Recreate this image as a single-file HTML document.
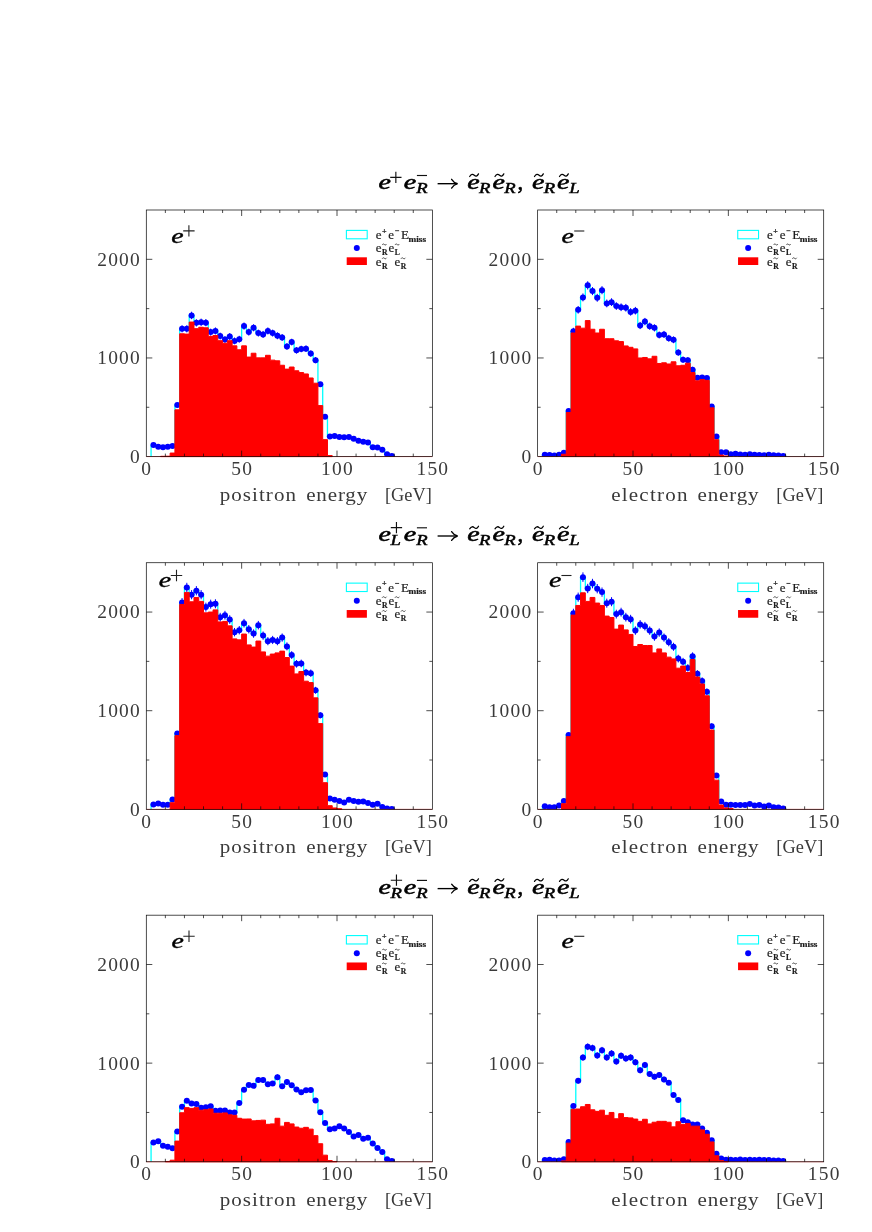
<!DOCTYPE html>
<html><head><meta charset="utf-8"><title>chart</title>
<style>html,body{margin:0;padding:0;background:#fff}svg{display:block;will-change:transform}text{white-space:pre}</style>
</head><body>
<svg width="872" height="1232" viewBox="0 0 872 1232">
<rect width="872" height="1232" fill="#fff"/>
<g font-family="Liberation Serif, serif" font-style="italic" fill="#000" stroke="#000" stroke-width="0.55">
<text transform="translate(378.5 188.6) scale(1.36 1)" font-size="20.6" >e</text>
<path d="M390.2 177.3h11.3 M395.85 171.65v11.3" stroke="#111" stroke-width="1.15" fill="none"/>
<text transform="translate(403.7 188.6) scale(1.36 1)" font-size="20.6" >e</text>
<path d="M416.9 175.5h10.1" stroke="#111" stroke-width="1.15" fill="none"/>
<text transform="translate(416.3 193) scale(1.28 1)" font-size="14.6" stroke-width="0.45">R</text>
<path d="M437.6 183.7H457.2" stroke="#000" stroke-width="1.35" fill="none"/>
<path d="M451.6 179.3 C453.2 181.9 455 183.1 457.6 183.7 C455 184.3 453.2 185.5 451.6 188.1" stroke="#000" stroke-width="1.3" fill="none" stroke-linecap="round"/>
<text transform="translate(467.2 188.6) scale(1.36 1)" font-size="20.6" >e</text>
<path d="M469.7 176.5 c1.6 -2.6 3.2 -2.4 4.6 -1.2 c1.4 1.2 2.8 1.2 4.2 -1.4" stroke="#000" stroke-width="1.25" fill="none" stroke-linecap="round"/>
<text transform="translate(479 193) scale(1.28 1)" font-size="14.6" stroke-width="0.45">R</text>
<text transform="translate(492.5 188.6) scale(1.36 1)" font-size="20.6" >e</text>
<path d="M495 176.5 c1.6 -2.6 3.2 -2.4 4.6 -1.2 c1.4 1.2 2.8 1.2 4.2 -1.4" stroke="#000" stroke-width="1.25" fill="none" stroke-linecap="round"/>
<text transform="translate(504.3 193) scale(1.28 1)" font-size="14.6" stroke-width="0.45">R</text>
<text transform="translate(517.6 188.6) scale(1 1)" font-size="22.5" font-style="normal">,</text>
<text transform="translate(532 188.6) scale(1.36 1)" font-size="20.6" >e</text>
<path d="M534.5 176.5 c1.6 -2.6 3.2 -2.4 4.6 -1.2 c1.4 1.2 2.8 1.2 4.2 -1.4" stroke="#000" stroke-width="1.25" fill="none" stroke-linecap="round"/>
<text transform="translate(543.7 193) scale(1.28 1)" font-size="14.6" stroke-width="0.45">R</text>
<text transform="translate(557 188.6) scale(1.36 1)" font-size="20.6" >e</text>
<path d="M559.5 176.5 c1.6 -2.6 3.2 -2.4 4.6 -1.2 c1.4 1.2 2.8 1.2 4.2 -1.4" stroke="#000" stroke-width="1.25" fill="none" stroke-linecap="round"/>
<text transform="translate(569.2 193) scale(1.28 1)" font-size="14.6" stroke-width="0.45">L</text>
</g>
<clipPath id="cp1"><rect x="146.3" y="210" width="286.05" height="246.6"/></clipPath>
<g>
<g clip-path="url(#cp1)">
<path d="M151.07 456.6 V445.06 H155.84 V446.64 H160.6 V447.33 H165.37 V446.74 H170.14 V445.95 H174.91 V404.91 H179.67 V328.86 H184.44 V328.86 H189.21 V315.45 H193.98 V322.84 H198.74 V322.25 H203.51 V322.65 H208.28 V332.12 H213.05 V330.93 H217.81 V336.06 H222.58 V339.51 H227.35 V336.46 H232.12 V340.9 H236.88 V339.22 H241.65 V326.1 H246.42 V332.12 H251.19 V327.78 H255.95 V333.1 H260.72 V334.39 H265.49 V330.93 H270.25 V333.1 H275.02 V335.77 H279.79 V337.44 H284.56 V346.42 H289.33 V342.08 H294.09 V350.36 H298.86 V348.98 H303.63 V348.69 H308.39 V353.62 H313.16 V360.13 H317.93 V384.3 H322.7 V416.65 H327.47 V436.48 H332.23 V435.89 H337 V436.97 H341.77 V437.17 H346.54 V436.97 H351.3 V438.84 H356.07 V440.72 H360.84 V441.8 H365.61 V442.49 H370.37 V447.13 H375.14 V447.62 H379.91 V449.7 H384.68 V454.23 H389.44 V456.11 H394.21 V456.6" fill="none" stroke="#00ffff" stroke-width="1.3" stroke-linejoin="miter"/>
<path d="M182.06 325.31V332.41 M186.82 325.31V332.41 M191.59 311.71V319.18 M196.36 319.21V326.48 M201.13 318.61V325.89 M205.89 319.01V326.28 M210.66 328.61V335.62 M215.43 327.41V334.45 M220.2 332.61V339.51 M224.96 336.12V342.91 M229.73 333.01V339.9 M234.5 337.52V344.27 M239.27 335.82V342.62 M244.03 322.51V329.69 M248.8 328.61V335.62 M253.57 324.21V331.34 M258.34 329.61V336.59 M263.1 330.91V337.86 M267.87 327.41V334.45 M272.64 329.61V336.59 M277.41 332.31V339.22 M282.17 334.01V340.87 M286.94 343.12V349.72 M291.71 338.72V345.44 M296.48 347.13V353.6 M301.24 345.73V352.24 M306.01 345.43V351.95 M310.78 350.43V356.81 M315.55 357.05V363.21 " stroke="#0000ff" stroke-width="1" fill="none"/>
<g fill="#0000ff"><circle cx="153.45" cy="445.06" r="3"/><circle cx="158.22" cy="446.64" r="3"/><circle cx="162.99" cy="447.33" r="3"/><circle cx="167.75" cy="446.74" r="3"/><circle cx="172.52" cy="445.95" r="3"/><circle cx="177.29" cy="404.91" r="3"/><circle cx="182.06" cy="328.86" r="3"/><circle cx="186.82" cy="328.86" r="3"/><circle cx="191.59" cy="315.45" r="3"/><circle cx="196.36" cy="322.84" r="3"/><circle cx="201.13" cy="322.25" r="3"/><circle cx="205.89" cy="322.65" r="3"/><circle cx="210.66" cy="332.12" r="3"/><circle cx="215.43" cy="330.93" r="3"/><circle cx="220.2" cy="336.06" r="3"/><circle cx="224.96" cy="339.51" r="3"/><circle cx="229.73" cy="336.46" r="3"/><circle cx="234.5" cy="340.9" r="3"/><circle cx="239.27" cy="339.22" r="3"/><circle cx="244.03" cy="326.1" r="3"/><circle cx="248.8" cy="332.12" r="3"/><circle cx="253.57" cy="327.78" r="3"/><circle cx="258.34" cy="333.1" r="3"/><circle cx="263.1" cy="334.39" r="3"/><circle cx="267.87" cy="330.93" r="3"/><circle cx="272.64" cy="333.1" r="3"/><circle cx="277.41" cy="335.77" r="3"/><circle cx="282.17" cy="337.44" r="3"/><circle cx="286.94" cy="346.42" r="3"/><circle cx="291.71" cy="342.08" r="3"/><circle cx="296.48" cy="350.36" r="3"/><circle cx="301.24" cy="348.98" r="3"/><circle cx="306.01" cy="348.69" r="3"/><circle cx="310.78" cy="353.62" r="3"/><circle cx="315.55" cy="360.13" r="3"/><circle cx="320.31" cy="384.3" r="3"/><circle cx="325.08" cy="416.65" r="3"/><circle cx="329.85" cy="436.48" r="3"/><circle cx="334.62" cy="435.89" r="3"/><circle cx="339.38" cy="436.97" r="3"/><circle cx="344.15" cy="437.17" r="3"/><circle cx="348.92" cy="436.97" r="3"/><circle cx="353.69" cy="438.84" r="3"/><circle cx="358.45" cy="440.72" r="3"/><circle cx="363.22" cy="441.8" r="3"/><circle cx="367.99" cy="442.49" r="3"/><circle cx="372.76" cy="447.13" r="3"/><circle cx="377.52" cy="447.62" r="3"/><circle cx="382.29" cy="449.7" r="3"/><circle cx="387.06" cy="454.23" r="3"/><circle cx="391.83" cy="456.11" r="3"/></g>
</g>
<path d="M160.6 456.6 V456.3 H165.37 V456.21 H170.14 V453.05 H174.91 V409.84 H179.67 V333.79 H184.44 V334.09 H189.21 V322.06 H193.98 V328.66 H198.74 V327.28 H203.51 V327.78 H208.28 V336.36 H213.05 V335.47 H217.81 V340.7 H222.58 V343.26 H227.35 V340.7 H232.12 V345.83 H236.88 V349.77 H241.65 V345.83 H246.42 V357.07 H251.19 V353.23 H255.95 V357.86 H260.72 V357.86 H265.49 V355.3 H270.25 V360.13 H275.02 V360.82 H279.79 V365.26 H284.56 V369.11 H289.33 V367.03 H294.09 V370.78 H298.86 V372.56 H303.63 V373.94 H308.39 V377.98 H313.16 V383.21 H317.93 V405.6 H322.7 V439.63 H327.47 V455.61 H332.23 V456.6 Z" fill="#ff0000" stroke="#ff0000" stroke-width="1" stroke-linejoin="miter"/>
<line x1="146.3" y1="456.6" x2="432.35" y2="456.6" stroke="#ff0000" stroke-width="0.5"/>
<rect x="146.3" y="210" width="286.05" height="246.6" fill="none" stroke="#0a0a0a" stroke-width="0.72"/>
<path d="M165.37 456.6v-3 M165.37 210v3 M184.44 456.6v-3 M184.44 210v3 M203.51 456.6v-3 M203.51 210v3 M222.58 456.6v-3 M222.58 210v3 M241.65 456.6v-6 M241.65 210v6 M260.72 456.6v-3 M260.72 210v3 M279.79 456.6v-3 M279.79 210v3 M298.86 456.6v-3 M298.86 210v3 M317.93 456.6v-3 M317.93 210v3 M337 456.6v-6 M337 210v6 M356.07 456.6v-3 M356.07 210v3 M375.14 456.6v-3 M375.14 210v3 M394.21 456.6v-3 M394.21 210v3 M413.28 456.6v-3 M413.28 210v3 M146.3 407.28h3 M432.35 407.28h-3 M146.3 357.96h6 M432.35 357.96h-6 M146.3 308.64h3 M432.35 308.64h-3 M146.3 259.32h6 M432.35 259.32h-6 " stroke="#0a0a0a" stroke-width="0.72" fill="none"/>
<g font-family="Liberation Serif, serif" font-size="18" fill="#3a3a3a" letter-spacing="1.15">
<text transform="translate(146.8 475.3) scale(1.08 1)" text-anchor="middle">0</text>
<text transform="translate(242.15 475.3) scale(1.08 1)" text-anchor="middle">50</text>
<text transform="translate(337.5 475.3) scale(1.08 1)" text-anchor="middle">100</text>
<text transform="translate(432.85 475.3) scale(1.08 1)" text-anchor="middle">150</text>
<text transform="translate(141 463.3) scale(1.08 1)" text-anchor="end">0</text>
<text transform="translate(141 364.36) scale(1.08 1)" text-anchor="end">1000</text>
<text transform="translate(141 265.72) scale(1.08 1)" text-anchor="end">2000</text>
</g>
<g font-family="Liberation Serif, serif" font-size="18.3" fill="#3a3a3a">
<text transform="translate(219.7 500.5) scale(1.15 1)" textLength="66.35" lengthAdjust="spacing">positron</text>
<text transform="translate(306.2 500.5) scale(1.15 1)" textLength="53.04" lengthAdjust="spacing">energy</text>
<text transform="translate(384.9 500.5) scale(1.0 1)" textLength="47" lengthAdjust="spacing">[GeV]</text>
</g>
<g font-family="Liberation Serif, serif" font-style="italic" fill="#000" stroke="#000" stroke-width="0.4">
<text transform="translate(171.3 243.1) scale(1.31 1)" font-size="21.3" >e</text>
</g>
<path d="M183.2 230.9h11.4 M188.9 225.2v11.4" stroke="#222" stroke-width="1.1" fill="none"/>
<rect x="346.4" y="230.4" width="20.8" height="8.4" fill="none" stroke="#00ffff" stroke-width="1.1"/>
<circle cx="356.8" cy="248" r="3" fill="#0000ff"/>
<rect x="346.7" y="257.3" width="20.2" height="7.7" fill="#ff0000"/>
<g font-family="Liberation Serif, serif" fill="#1a1a1a" stroke="#1a1a1a" stroke-width="0.2">
<text x="375.7" y="239.1" font-size="13">e</text>
<text x="381.9" y="233.6" font-size="8" font-weight="bold">+</text>
<text x="388.3" y="239.1" font-size="13">e</text>
<path d="M395.1 230.7h4" stroke="#222" stroke-width="0.9"/>
<text x="400.9" y="239.1" font-size="13.2">E</text>
<text x="408.5" y="241.6" font-size="8.4" font-weight="bold" textLength="17.5" lengthAdjust="spacingAndGlyphs">miss</text>
<text x="375.7" y="251.8" font-size="13">e</text>
<path d="M382.2 244.9 c0.7 -1.1 1.5 -1.1 2.2 -0.4 c0.7 0.7 1.5 0.7 2.2 -0.5" stroke="#222" stroke-width="0.8" fill="none"/>
<text x="381.9" y="254.9" font-size="7.6" font-weight="bold">R</text>
<text x="388.5" y="251.8" font-size="13">e</text>
<path d="M395 244.9 c0.7 -1.1 1.5 -1.1 2.2 -0.4 c0.7 0.7 1.5 0.7 2.2 -0.5" stroke="#222" stroke-width="0.8" fill="none"/>
<text x="394.7" y="254.9" font-size="7.6" font-weight="bold">L</text>
<text x="375.7" y="265.6" font-size="13">e</text>
<path d="M382.2 258.7 c0.7 -1.1 1.5 -1.1 2.2 -0.4 c0.7 0.7 1.5 0.7 2.2 -0.5" stroke="#222" stroke-width="0.8" fill="none"/>
<text x="381.9" y="268.7" font-size="7.6" font-weight="bold">R</text>
<text x="394.5" y="265.6" font-size="13">e</text>
<path d="M401 258.7 c0.7 -1.1 1.5 -1.1 2.2 -0.4 c0.7 0.7 1.5 0.7 2.2 -0.5" stroke="#222" stroke-width="0.8" fill="none"/>
<text x="400.7" y="268.7" font-size="7.6" font-weight="bold">R</text>
</g>
</g>
<clipPath id="cp2"><rect x="537.65" y="210" width="286.05" height="246.6"/></clipPath>
<g>
<g clip-path="url(#cp2)">
<path d="M542.42 456.6 V454.82 H547.18 V455.12 H551.95 V455.61 H556.72 V454.82 H561.49 V452.65 H566.25 V411.03 H571.02 V331.33 H575.79 V309.82 H580.56 V297.4 H585.32 V285.36 H590.09 V291.08 H594.86 V297.79 H599.63 V290.19 H604.39 V303.41 H609.16 V302.13 H613.93 V306.08 H618.7 V307.26 H623.46 V307.75 H628.23 V311.9 H633 V310.71 H637.77 V325.51 H642.53 V321.56 H647.3 V326.2 H652.07 V327.87 H656.84 V334.98 H661.61 V334.39 H666.37 V338.23 H671.14 V339.81 H675.91 V352.53 H680.67 V359.74 H685.44 V360.13 H690.21 V369.7 H694.98 V377.79 H699.75 V377.49 H704.51 V377.98 H709.28 V406.39 H714.05 V436.38 H718.81 V452.36 H723.58 V452.36 H728.35 V454.23 H733.12 V453.74 H737.88 V454.43 H742.65 V454.63 H747.42 V454.23 H752.19 V454.82 H756.95 V455.02 H761.72 V455.22 H766.49 V454.82 H771.26 V455.22 H776.02 V455.61 H780.79 V456.01 H785.56 V456.6" fill="none" stroke="#00ffff" stroke-width="1.3" stroke-linejoin="miter"/>
<path d="M573.41 327.81V334.84 M578.17 306.02V313.63 M582.94 293.43V301.36 M587.71 281.25V289.47 M592.48 287.04V295.12 M597.24 293.83V301.75 M602.01 286.14V294.25 M606.78 299.52V307.3 M611.55 298.23V306.03 M616.31 302.22V309.93 M621.08 303.42V311.1 M625.85 303.92V311.58 M630.62 308.12V315.67 M635.38 306.92V314.5 M640.15 321.91V329.1 M644.92 317.91V325.21 M649.69 322.61V329.78 M654.45 324.31V331.44 M659.22 331.51V338.44 M663.99 330.91V337.86 M668.76 334.82V341.65 M673.52 336.42V343.2 M678.29 349.33V355.74 M683.06 356.64V362.83 M687.83 357.05V363.21 M692.59 366.77V372.63 " stroke="#0000ff" stroke-width="1" fill="none"/>
<g fill="#0000ff"><circle cx="544.8" cy="454.82" r="3"/><circle cx="549.57" cy="455.12" r="3"/><circle cx="554.34" cy="455.61" r="3"/><circle cx="559.1" cy="454.82" r="3"/><circle cx="563.87" cy="452.65" r="3"/><circle cx="568.64" cy="411.03" r="3"/><circle cx="573.41" cy="331.33" r="3"/><circle cx="578.17" cy="309.82" r="3"/><circle cx="582.94" cy="297.4" r="3"/><circle cx="587.71" cy="285.36" r="3"/><circle cx="592.48" cy="291.08" r="3"/><circle cx="597.24" cy="297.79" r="3"/><circle cx="602.01" cy="290.19" r="3"/><circle cx="606.78" cy="303.41" r="3"/><circle cx="611.55" cy="302.13" r="3"/><circle cx="616.31" cy="306.08" r="3"/><circle cx="621.08" cy="307.26" r="3"/><circle cx="625.85" cy="307.75" r="3"/><circle cx="630.62" cy="311.9" r="3"/><circle cx="635.38" cy="310.71" r="3"/><circle cx="640.15" cy="325.51" r="3"/><circle cx="644.92" cy="321.56" r="3"/><circle cx="649.69" cy="326.2" r="3"/><circle cx="654.45" cy="327.87" r="3"/><circle cx="659.22" cy="334.98" r="3"/><circle cx="663.99" cy="334.39" r="3"/><circle cx="668.76" cy="338.23" r="3"/><circle cx="673.52" cy="339.81" r="3"/><circle cx="678.29" cy="352.53" r="3"/><circle cx="683.06" cy="359.74" r="3"/><circle cx="687.83" cy="360.13" r="3"/><circle cx="692.59" cy="369.7" r="3"/><circle cx="697.36" cy="377.79" r="3"/><circle cx="702.13" cy="377.49" r="3"/><circle cx="706.9" cy="377.98" r="3"/><circle cx="711.66" cy="406.39" r="3"/><circle cx="716.43" cy="436.38" r="3"/><circle cx="721.2" cy="452.36" r="3"/><circle cx="725.97" cy="452.36" r="3"/><circle cx="730.73" cy="454.23" r="3"/><circle cx="735.5" cy="453.74" r="3"/><circle cx="740.27" cy="454.43" r="3"/><circle cx="745.04" cy="454.63" r="3"/><circle cx="749.8" cy="454.23" r="3"/><circle cx="754.57" cy="454.82" r="3"/><circle cx="759.34" cy="455.02" r="3"/><circle cx="764.11" cy="455.22" r="3"/><circle cx="768.87" cy="454.82" r="3"/><circle cx="773.64" cy="455.22" r="3"/><circle cx="778.41" cy="455.61" r="3"/><circle cx="783.18" cy="456.01" r="3"/></g>
</g>
<path d="M561.49 456.6 V454.23 H566.25 V412.51 H571.02 V333 H575.79 V326.1 H580.56 V328.17 H585.32 V320.58 H590.09 V329.26 H594.86 V333 H599.63 V329.26 H604.39 V338.73 H609.16 V338.73 H613.93 V340.8 H618.7 V341.59 H623.46 V345.93 H628.23 V347.31 H633 V348.89 H637.77 V357.96 H642.53 V357.47 H647.3 V358.85 H652.07 V356.28 H656.84 V363.48 H661.61 V362.79 H666.37 V363.98 H671.14 V361.81 H675.91 V365.75 H680.67 V365.26 H685.44 V363.19 H690.21 V372.56 H694.98 V380.84 H699.75 V379.46 H704.51 V380.35 H709.28 V407.87 H714.05 V439.73 H718.81 V455.12 H723.58 V456.01 H728.35 V456.6 Z" fill="#ff0000" stroke="#ff0000" stroke-width="1" stroke-linejoin="miter"/>
<line x1="537.65" y1="456.6" x2="823.7" y2="456.6" stroke="#ff0000" stroke-width="0.5"/>
<rect x="537.65" y="210" width="286.05" height="246.6" fill="none" stroke="#0a0a0a" stroke-width="0.72"/>
<path d="M556.72 456.6v-3 M556.72 210v3 M575.79 456.6v-3 M575.79 210v3 M594.86 456.6v-3 M594.86 210v3 M613.93 456.6v-3 M613.93 210v3 M633 456.6v-6 M633 210v6 M652.07 456.6v-3 M652.07 210v3 M671.14 456.6v-3 M671.14 210v3 M690.21 456.6v-3 M690.21 210v3 M709.28 456.6v-3 M709.28 210v3 M728.35 456.6v-6 M728.35 210v6 M747.42 456.6v-3 M747.42 210v3 M766.49 456.6v-3 M766.49 210v3 M785.56 456.6v-3 M785.56 210v3 M804.63 456.6v-3 M804.63 210v3 M537.65 407.28h3 M823.7 407.28h-3 M537.65 357.96h6 M823.7 357.96h-6 M537.65 308.64h3 M823.7 308.64h-3 M537.65 259.32h6 M823.7 259.32h-6 " stroke="#0a0a0a" stroke-width="0.72" fill="none"/>
<g font-family="Liberation Serif, serif" font-size="18" fill="#3a3a3a" letter-spacing="1.15">
<text transform="translate(538.15 475.3) scale(1.08 1)" text-anchor="middle">0</text>
<text transform="translate(633.5 475.3) scale(1.08 1)" text-anchor="middle">50</text>
<text transform="translate(728.85 475.3) scale(1.08 1)" text-anchor="middle">100</text>
<text transform="translate(824.2 475.3) scale(1.08 1)" text-anchor="middle">150</text>
<text transform="translate(532.35 463.3) scale(1.08 1)" text-anchor="end">0</text>
<text transform="translate(532.35 364.36) scale(1.08 1)" text-anchor="end">1000</text>
<text transform="translate(532.35 265.72) scale(1.08 1)" text-anchor="end">2000</text>
</g>
<g font-family="Liberation Serif, serif" font-size="18.3" fill="#3a3a3a">
<text transform="translate(611.15 500.5) scale(1.15 1)" textLength="66.35" lengthAdjust="spacing">electron</text>
<text transform="translate(697.55 500.5) scale(1.15 1)" textLength="53.04" lengthAdjust="spacing">energy</text>
<text transform="translate(776.25 500.5) scale(1.0 1)" textLength="47" lengthAdjust="spacing">[GeV]</text>
</g>
<g font-family="Liberation Serif, serif" font-style="italic" fill="#000" stroke="#000" stroke-width="0.4">
<text transform="translate(561.4 243) scale(1.31 1)" font-size="21.3" >e</text>
</g>
<path d="M574.2 231h10.1" stroke="#222" stroke-width="1.1" fill="none"/>
<rect x="737.75" y="230.4" width="20.8" height="8.4" fill="none" stroke="#00ffff" stroke-width="1.1"/>
<circle cx="748.15" cy="248" r="3" fill="#0000ff"/>
<rect x="738.05" y="257.3" width="20.2" height="7.7" fill="#ff0000"/>
<g font-family="Liberation Serif, serif" fill="#1a1a1a" stroke="#1a1a1a" stroke-width="0.2">
<text x="767.05" y="239.1" font-size="13">e</text>
<text x="773.25" y="233.6" font-size="8" font-weight="bold">+</text>
<text x="779.65" y="239.1" font-size="13">e</text>
<path d="M786.45 230.7h4" stroke="#222" stroke-width="0.9"/>
<text x="792.25" y="239.1" font-size="13.2">E</text>
<text x="799.85" y="241.6" font-size="8.4" font-weight="bold" textLength="17.5" lengthAdjust="spacingAndGlyphs">miss</text>
<text x="767.05" y="251.8" font-size="13">e</text>
<path d="M773.55 244.9 c0.7 -1.1 1.5 -1.1 2.2 -0.4 c0.7 0.7 1.5 0.7 2.2 -0.5" stroke="#222" stroke-width="0.8" fill="none"/>
<text x="773.25" y="254.9" font-size="7.6" font-weight="bold">R</text>
<text x="779.85" y="251.8" font-size="13">e</text>
<path d="M786.35 244.9 c0.7 -1.1 1.5 -1.1 2.2 -0.4 c0.7 0.7 1.5 0.7 2.2 -0.5" stroke="#222" stroke-width="0.8" fill="none"/>
<text x="786.05" y="254.9" font-size="7.6" font-weight="bold">L</text>
<text x="767.05" y="265.6" font-size="13">e</text>
<path d="M773.55 258.7 c0.7 -1.1 1.5 -1.1 2.2 -0.4 c0.7 0.7 1.5 0.7 2.2 -0.5" stroke="#222" stroke-width="0.8" fill="none"/>
<text x="773.25" y="268.7" font-size="7.6" font-weight="bold">R</text>
<text x="785.85" y="265.6" font-size="13">e</text>
<path d="M792.35 258.7 c0.7 -1.1 1.5 -1.1 2.2 -0.4 c0.7 0.7 1.5 0.7 2.2 -0.5" stroke="#222" stroke-width="0.8" fill="none"/>
<text x="792.05" y="268.7" font-size="7.6" font-weight="bold">R</text>
</g>
</g>
<g font-family="Liberation Serif, serif" font-style="italic" fill="#000" stroke="#000" stroke-width="0.55">
<text transform="translate(378.5 540.9) scale(1.36 1)" font-size="20.6" >e</text>
<path d="M390.8 527.6h11.3 M396.45 521.95v11.3" stroke="#111" stroke-width="1.15" fill="none"/>
<text transform="translate(390.5 545.3) scale(1.28 1)" font-size="14.6" stroke-width="0.45">L</text>
<text transform="translate(403.7 540.9) scale(1.36 1)" font-size="20.6" >e</text>
<path d="M416.9 527.8h10.1" stroke="#111" stroke-width="1.15" fill="none"/>
<text transform="translate(416.3 545.3) scale(1.28 1)" font-size="14.6" stroke-width="0.45">R</text>
<path d="M437.6 536H457.2" stroke="#000" stroke-width="1.35" fill="none"/>
<path d="M451.6 531.6 C453.2 534.2 455 535.4 457.6 536 C455 536.6 453.2 537.8 451.6 540.4" stroke="#000" stroke-width="1.3" fill="none" stroke-linecap="round"/>
<text transform="translate(467.2 540.9) scale(1.36 1)" font-size="20.6" >e</text>
<path d="M469.7 528.8 c1.6 -2.6 3.2 -2.4 4.6 -1.2 c1.4 1.2 2.8 1.2 4.2 -1.4" stroke="#000" stroke-width="1.25" fill="none" stroke-linecap="round"/>
<text transform="translate(479 545.3) scale(1.28 1)" font-size="14.6" stroke-width="0.45">R</text>
<text transform="translate(492.5 540.9) scale(1.36 1)" font-size="20.6" >e</text>
<path d="M495 528.8 c1.6 -2.6 3.2 -2.4 4.6 -1.2 c1.4 1.2 2.8 1.2 4.2 -1.4" stroke="#000" stroke-width="1.25" fill="none" stroke-linecap="round"/>
<text transform="translate(504.3 545.3) scale(1.28 1)" font-size="14.6" stroke-width="0.45">R</text>
<text transform="translate(517.6 540.9) scale(1 1)" font-size="22.5" font-style="normal">,</text>
<text transform="translate(532 540.9) scale(1.36 1)" font-size="20.6" >e</text>
<path d="M534.5 528.8 c1.6 -2.6 3.2 -2.4 4.6 -1.2 c1.4 1.2 2.8 1.2 4.2 -1.4" stroke="#000" stroke-width="1.25" fill="none" stroke-linecap="round"/>
<text transform="translate(543.7 545.3) scale(1.28 1)" font-size="14.6" stroke-width="0.45">R</text>
<text transform="translate(557 540.9) scale(1.36 1)" font-size="20.6" >e</text>
<path d="M559.5 528.8 c1.6 -2.6 3.2 -2.4 4.6 -1.2 c1.4 1.2 2.8 1.2 4.2 -1.4" stroke="#000" stroke-width="1.25" fill="none" stroke-linecap="round"/>
<text transform="translate(569.2 545.3) scale(1.28 1)" font-size="14.6" stroke-width="0.45">L</text>
</g>
<clipPath id="cp3"><rect x="146.3" y="562.73" width="286.05" height="246.6"/></clipPath>
<g>
<g clip-path="url(#cp3)">
<path d="M151.07 809.33 V804.4 H155.84 V803.41 H160.6 V804.79 H165.37 V804.79 H170.14 V799.47 H174.91 V733.38 H179.67 V602.58 H184.44 V587.49 H189.21 V594.69 H193.98 V590.74 H198.74 V594.69 H203.51 V607.12 H208.28 V604.16 H213.05 V603.76 H217.81 V617.18 H222.58 V615.21 H227.35 V619.55 H232.12 V632.17 H236.88 V630.2 H241.65 V623.2 H246.42 V629.21 H251.19 V633.55 H255.95 V625.17 H260.72 V635.62 H265.49 V641.15 H270.25 V639.97 H275.02 V641.15 H279.79 V637.6 H284.56 V646.38 H289.33 V655.06 H294.09 V663.84 H298.86 V663.44 H303.63 V672.61 H308.39 V673.21 H313.16 V690.27 H317.93 V715.33 H322.7 V774.41 H327.47 V798.38 H332.23 V799.86 H337 V801.04 H341.77 V802.43 H346.54 V799.86 H351.3 V801.04 H356.07 V801.64 H360.84 V801.44 H365.61 V803.02 H370.37 V804.79 H375.14 V803.81 H379.91 V806.96 H384.68 V808.54 H389.44 V809.03 H394.21 V809.33" fill="none" stroke="#00ffff" stroke-width="1.3" stroke-linejoin="miter"/>
<path d="M182.06 598.06V607.1 M186.82 582.81V592.17 M191.59 590.09V599.29 M196.36 586.1V595.39 M201.13 590.09V599.29 M205.89 602.65V611.58 M210.66 599.66V608.66 M215.43 599.26V608.27 M220.2 612.83V621.53 M224.96 610.83V619.58 M229.73 615.22V623.87 M234.5 627.99V636.35 M239.27 626V634.4 M244.03 618.91V627.48 M248.8 625V633.43 M253.57 629.39V637.72 M258.34 620.91V629.43 M263.1 631.49V639.76 M267.87 637.08V645.22 M272.64 635.88V644.05 M277.41 637.08V645.22 M282.17 633.48V641.71 M286.94 642.37V650.39 M291.71 651.16V658.96 M296.48 660.05V667.62 M301.24 659.65V667.23 M306.01 668.94V676.29 M310.78 669.54V676.87 M315.55 686.84V693.7 M320.31 712.28V718.37 " stroke="#0000ff" stroke-width="1" fill="none"/>
<g fill="#0000ff"><circle cx="153.45" cy="804.4" r="3"/><circle cx="158.22" cy="803.41" r="3"/><circle cx="162.99" cy="804.79" r="3"/><circle cx="167.75" cy="804.79" r="3"/><circle cx="172.52" cy="799.47" r="3"/><circle cx="177.29" cy="733.38" r="3"/><circle cx="182.06" cy="602.58" r="3"/><circle cx="186.82" cy="587.49" r="3"/><circle cx="191.59" cy="594.69" r="3"/><circle cx="196.36" cy="590.74" r="3"/><circle cx="201.13" cy="594.69" r="3"/><circle cx="205.89" cy="607.12" r="3"/><circle cx="210.66" cy="604.16" r="3"/><circle cx="215.43" cy="603.76" r="3"/><circle cx="220.2" cy="617.18" r="3"/><circle cx="224.96" cy="615.21" r="3"/><circle cx="229.73" cy="619.55" r="3"/><circle cx="234.5" cy="632.17" r="3"/><circle cx="239.27" cy="630.2" r="3"/><circle cx="244.03" cy="623.2" r="3"/><circle cx="248.8" cy="629.21" r="3"/><circle cx="253.57" cy="633.55" r="3"/><circle cx="258.34" cy="625.17" r="3"/><circle cx="263.1" cy="635.62" r="3"/><circle cx="267.87" cy="641.15" r="3"/><circle cx="272.64" cy="639.97" r="3"/><circle cx="277.41" cy="641.15" r="3"/><circle cx="282.17" cy="637.6" r="3"/><circle cx="286.94" cy="646.38" r="3"/><circle cx="291.71" cy="655.06" r="3"/><circle cx="296.48" cy="663.84" r="3"/><circle cx="301.24" cy="663.44" r="3"/><circle cx="306.01" cy="672.61" r="3"/><circle cx="310.78" cy="673.21" r="3"/><circle cx="315.55" cy="690.27" r="3"/><circle cx="320.31" cy="715.33" r="3"/><circle cx="325.08" cy="774.41" r="3"/><circle cx="329.85" cy="798.38" r="3"/><circle cx="334.62" cy="799.86" r="3"/><circle cx="339.38" cy="801.04" r="3"/><circle cx="344.15" cy="802.43" r="3"/><circle cx="348.92" cy="799.86" r="3"/><circle cx="353.69" cy="801.04" r="3"/><circle cx="358.45" cy="801.64" r="3"/><circle cx="363.22" cy="801.44" r="3"/><circle cx="367.99" cy="803.02" r="3"/><circle cx="372.76" cy="804.79" r="3"/><circle cx="377.52" cy="803.81" r="3"/><circle cx="382.29" cy="806.96" r="3"/><circle cx="387.06" cy="808.54" r="3"/><circle cx="391.83" cy="809.03" r="3"/></g>
</g>
<path d="M170.14 809.33 V802.72 H174.91 V735.65 H179.67 V604.45 H184.44 V592.42 H189.21 V601.79 H193.98 V597.45 H198.74 V601.4 H203.51 V612.84 H208.28 V612.05 H213.05 V609.88 H217.81 V621.91 H222.58 V621.42 H227.35 V625.86 H232.12 V638.88 H236.88 V639.87 H241.65 V634.05 H246.42 V644.9 H251.19 V647.07 H255.95 V641.05 H260.72 V651.9 H265.49 V656.14 H270.25 V654.07 H275.02 V652.89 H279.79 V651.11 H284.56 V657.52 H289.33 V666.1 H294.09 V673.9 H298.86 V671.53 H303.63 V681.2 H308.39 V682.58 H313.16 V697.87 H317.93 V723.61 H322.7 V782.7 H327.47 V805.68 H332.23 V807.95 H337 V808.74 H341.77 V809.33 Z" fill="#ff0000" stroke="#ff0000" stroke-width="1" stroke-linejoin="miter"/>
<line x1="146.3" y1="809.33" x2="432.35" y2="809.33" stroke="#ff0000" stroke-width="0.5"/>
<rect x="146.3" y="562.73" width="286.05" height="246.6" fill="none" stroke="#0a0a0a" stroke-width="0.72"/>
<path d="M165.37 809.33v-3 M165.37 562.73v3 M184.44 809.33v-3 M184.44 562.73v3 M203.51 809.33v-3 M203.51 562.73v3 M222.58 809.33v-3 M222.58 562.73v3 M241.65 809.33v-6 M241.65 562.73v6 M260.72 809.33v-3 M260.72 562.73v3 M279.79 809.33v-3 M279.79 562.73v3 M298.86 809.33v-3 M298.86 562.73v3 M317.93 809.33v-3 M317.93 562.73v3 M337 809.33v-6 M337 562.73v6 M356.07 809.33v-3 M356.07 562.73v3 M375.14 809.33v-3 M375.14 562.73v3 M394.21 809.33v-3 M394.21 562.73v3 M413.28 809.33v-3 M413.28 562.73v3 M146.3 760.01h3 M432.35 760.01h-3 M146.3 710.69h6 M432.35 710.69h-6 M146.3 661.37h3 M432.35 661.37h-3 M146.3 612.05h6 M432.35 612.05h-6 " stroke="#0a0a0a" stroke-width="0.72" fill="none"/>
<g font-family="Liberation Serif, serif" font-size="18" fill="#3a3a3a" letter-spacing="1.15">
<text transform="translate(146.8 828.03) scale(1.08 1)" text-anchor="middle">0</text>
<text transform="translate(242.15 828.03) scale(1.08 1)" text-anchor="middle">50</text>
<text transform="translate(337.5 828.03) scale(1.08 1)" text-anchor="middle">100</text>
<text transform="translate(432.85 828.03) scale(1.08 1)" text-anchor="middle">150</text>
<text transform="translate(141 816.03) scale(1.08 1)" text-anchor="end">0</text>
<text transform="translate(141 717.09) scale(1.08 1)" text-anchor="end">1000</text>
<text transform="translate(141 618.45) scale(1.08 1)" text-anchor="end">2000</text>
</g>
<g font-family="Liberation Serif, serif" font-size="18.3" fill="#3a3a3a">
<text transform="translate(219.7 853.23) scale(1.15 1)" textLength="66.35" lengthAdjust="spacing">positron</text>
<text transform="translate(306.2 853.23) scale(1.15 1)" textLength="53.04" lengthAdjust="spacing">energy</text>
<text transform="translate(384.9 853.23) scale(1.0 1)" textLength="47" lengthAdjust="spacing">[GeV]</text>
</g>
<g font-family="Liberation Serif, serif" font-style="italic" fill="#000" stroke="#000" stroke-width="0.4">
<text transform="translate(158.7 586.8) scale(1.31 1)" font-size="21.3" >e</text>
</g>
<path d="M170.8 575.5h11.4 M176.5 569.8v11.4" stroke="#222" stroke-width="1.1" fill="none"/>
<rect x="346.4" y="583.13" width="20.8" height="8.4" fill="none" stroke="#00ffff" stroke-width="1.1"/>
<circle cx="356.8" cy="600.73" r="3" fill="#0000ff"/>
<rect x="346.7" y="610.03" width="20.2" height="7.7" fill="#ff0000"/>
<g font-family="Liberation Serif, serif" fill="#1a1a1a" stroke="#1a1a1a" stroke-width="0.2">
<text x="375.7" y="591.83" font-size="13">e</text>
<text x="381.9" y="586.33" font-size="8" font-weight="bold">+</text>
<text x="388.3" y="591.83" font-size="13">e</text>
<path d="M395.1 583.43h4" stroke="#222" stroke-width="0.9"/>
<text x="400.9" y="591.83" font-size="13.2">E</text>
<text x="408.5" y="594.33" font-size="8.4" font-weight="bold" textLength="17.5" lengthAdjust="spacingAndGlyphs">miss</text>
<text x="375.7" y="604.53" font-size="13">e</text>
<path d="M382.2 597.63 c0.7 -1.1 1.5 -1.1 2.2 -0.4 c0.7 0.7 1.5 0.7 2.2 -0.5" stroke="#222" stroke-width="0.8" fill="none"/>
<text x="381.9" y="607.63" font-size="7.6" font-weight="bold">R</text>
<text x="388.5" y="604.53" font-size="13">e</text>
<path d="M395 597.63 c0.7 -1.1 1.5 -1.1 2.2 -0.4 c0.7 0.7 1.5 0.7 2.2 -0.5" stroke="#222" stroke-width="0.8" fill="none"/>
<text x="394.7" y="607.63" font-size="7.6" font-weight="bold">L</text>
<text x="375.7" y="618.33" font-size="13">e</text>
<path d="M382.2 611.43 c0.7 -1.1 1.5 -1.1 2.2 -0.4 c0.7 0.7 1.5 0.7 2.2 -0.5" stroke="#222" stroke-width="0.8" fill="none"/>
<text x="381.9" y="621.43" font-size="7.6" font-weight="bold">R</text>
<text x="394.5" y="618.33" font-size="13">e</text>
<path d="M401 611.43 c0.7 -1.1 1.5 -1.1 2.2 -0.4 c0.7 0.7 1.5 0.7 2.2 -0.5" stroke="#222" stroke-width="0.8" fill="none"/>
<text x="400.7" y="621.43" font-size="7.6" font-weight="bold">R</text>
</g>
</g>
<clipPath id="cp4"><rect x="537.65" y="562.73" width="286.05" height="246.6"/></clipPath>
<g>
<g clip-path="url(#cp4)">
<path d="M542.42 809.33 V806.37 H547.18 V807.36 H551.95 V807.36 H556.72 V805.38 H561.49 V801.04 H566.25 V734.96 H571.02 V613.14 H575.79 V597.16 H580.56 V577.13 H585.32 V588.48 H590.09 V583.54 H594.86 V588.67 H599.63 V592.12 H604.39 V603.17 H609.16 V601.69 H613.93 V614.12 H618.7 V612.15 H623.46 V617.18 H628.23 V619.15 H633 V630.59 H637.77 V624.38 H642.53 V626.16 H647.3 V630.59 H652.07 V636.61 H656.84 V632.57 H661.61 V637.6 H666.37 V642.23 H671.14 V646.77 H675.91 V658.61 H680.67 V661.67 H685.44 V667.88 H690.21 V656.24 H694.98 V673.8 H699.75 V680.9 H704.51 V691.85 H709.28 V726.28 H714.05 V775.4 H718.81 V801.44 H723.58 V804.79 H728.35 V804.79 H733.12 V805.09 H737.88 V805.09 H742.65 V805.09 H747.42 V804 H752.19 V805.38 H756.95 V804.99 H761.72 V806.57 H766.49 V805.38 H771.26 V807.36 H776.02 V807.55 H780.79 V808.54 H785.56 V809.33" fill="none" stroke="#00ffff" stroke-width="1.3" stroke-linejoin="miter"/>
<path d="M573.41 608.74V617.53 M578.17 592.58V601.73 M582.94 572.35V581.92 M587.71 583.81V593.14 M592.48 578.82V588.26 M597.24 584.01V593.34 M602.01 587.5V596.75 M606.78 598.66V607.68 M611.55 597.17V606.22 M616.31 609.73V618.51 M621.08 607.74V616.56 M625.85 612.83V621.53 M630.62 614.82V623.48 M635.38 626.4V634.79 M640.15 620.11V628.65 M644.92 621.9V630.41 M649.69 626.4V634.79 M654.45 632.48V640.74 M659.22 628.39V636.74 M663.99 633.48V641.71 M668.76 638.17V646.29 M673.52 642.77V650.78 M678.29 654.75V662.46 M683.06 657.85V665.48 M687.83 664.14V671.62 M692.59 652.35V660.13 M697.36 670.14V677.45 M702.13 677.34V684.46 M706.9 688.45V695.25 M711.66 723.41V729.14 " stroke="#0000ff" stroke-width="1" fill="none"/>
<g fill="#0000ff"><circle cx="544.8" cy="806.37" r="3"/><circle cx="549.57" cy="807.36" r="3"/><circle cx="554.34" cy="807.36" r="3"/><circle cx="559.1" cy="805.38" r="3"/><circle cx="563.87" cy="801.04" r="3"/><circle cx="568.64" cy="734.96" r="3"/><circle cx="573.41" cy="613.14" r="3"/><circle cx="578.17" cy="597.16" r="3"/><circle cx="582.94" cy="577.13" r="3"/><circle cx="587.71" cy="588.48" r="3"/><circle cx="592.48" cy="583.54" r="3"/><circle cx="597.24" cy="588.67" r="3"/><circle cx="602.01" cy="592.12" r="3"/><circle cx="606.78" cy="603.17" r="3"/><circle cx="611.55" cy="601.69" r="3"/><circle cx="616.31" cy="614.12" r="3"/><circle cx="621.08" cy="612.15" r="3"/><circle cx="625.85" cy="617.18" r="3"/><circle cx="630.62" cy="619.15" r="3"/><circle cx="635.38" cy="630.59" r="3"/><circle cx="640.15" cy="624.38" r="3"/><circle cx="644.92" cy="626.16" r="3"/><circle cx="649.69" cy="630.59" r="3"/><circle cx="654.45" cy="636.61" r="3"/><circle cx="659.22" cy="632.57" r="3"/><circle cx="663.99" cy="637.6" r="3"/><circle cx="668.76" cy="642.23" r="3"/><circle cx="673.52" cy="646.77" r="3"/><circle cx="678.29" cy="658.61" r="3"/><circle cx="683.06" cy="661.67" r="3"/><circle cx="687.83" cy="667.88" r="3"/><circle cx="692.59" cy="656.24" r="3"/><circle cx="697.36" cy="673.8" r="3"/><circle cx="702.13" cy="680.9" r="3"/><circle cx="706.9" cy="691.85" r="3"/><circle cx="711.66" cy="726.28" r="3"/><circle cx="716.43" cy="775.4" r="3"/><circle cx="721.2" cy="801.44" r="3"/><circle cx="725.97" cy="804.79" r="3"/><circle cx="730.73" cy="804.79" r="3"/><circle cx="735.5" cy="805.09" r="3"/><circle cx="740.27" cy="805.09" r="3"/><circle cx="745.04" cy="805.09" r="3"/><circle cx="749.8" cy="804" r="3"/><circle cx="754.57" cy="805.38" r="3"/><circle cx="759.34" cy="804.99" r="3"/><circle cx="764.11" cy="806.57" r="3"/><circle cx="768.87" cy="805.38" r="3"/><circle cx="773.64" cy="807.36" r="3"/><circle cx="778.41" cy="807.55" r="3"/><circle cx="783.18" cy="808.54" r="3"/></g>
</g>
<path d="M561.49 809.33 V803.71 H566.25 V736.63 H571.02 V615.11 H575.79 V605.44 H580.56 V592.82 H585.32 V601.4 H590.09 V597.45 H594.86 V603.07 H599.63 V605.44 H604.39 V616.09 H609.16 V617.48 H613.93 V629.11 H618.7 V625.07 H623.46 V629.9 H628.23 V634.44 H633 V646.48 H637.77 V644.5 H642.53 V645.49 H647.3 V645.49 H652.07 V652.89 H656.84 V648.94 H661.61 V652.89 H666.37 V657.13 H671.14 V658.9 H675.91 V668.18 H680.67 V666.1 H685.44 V672.52 H690.21 V659.5 H694.98 V676.96 H699.75 V683.96 H704.51 V695.8 H709.28 V730.02 H714.05 V780.13 H718.81 V805.09 H723.58 V807.95 H728.35 V808.54 H733.12 V809.33 Z" fill="#ff0000" stroke="#ff0000" stroke-width="1" stroke-linejoin="miter"/>
<line x1="537.65" y1="809.33" x2="823.7" y2="809.33" stroke="#ff0000" stroke-width="0.5"/>
<rect x="537.65" y="562.73" width="286.05" height="246.6" fill="none" stroke="#0a0a0a" stroke-width="0.72"/>
<path d="M556.72 809.33v-3 M556.72 562.73v3 M575.79 809.33v-3 M575.79 562.73v3 M594.86 809.33v-3 M594.86 562.73v3 M613.93 809.33v-3 M613.93 562.73v3 M633 809.33v-6 M633 562.73v6 M652.07 809.33v-3 M652.07 562.73v3 M671.14 809.33v-3 M671.14 562.73v3 M690.21 809.33v-3 M690.21 562.73v3 M709.28 809.33v-3 M709.28 562.73v3 M728.35 809.33v-6 M728.35 562.73v6 M747.42 809.33v-3 M747.42 562.73v3 M766.49 809.33v-3 M766.49 562.73v3 M785.56 809.33v-3 M785.56 562.73v3 M804.63 809.33v-3 M804.63 562.73v3 M537.65 760.01h3 M823.7 760.01h-3 M537.65 710.69h6 M823.7 710.69h-6 M537.65 661.37h3 M823.7 661.37h-3 M537.65 612.05h6 M823.7 612.05h-6 " stroke="#0a0a0a" stroke-width="0.72" fill="none"/>
<g font-family="Liberation Serif, serif" font-size="18" fill="#3a3a3a" letter-spacing="1.15">
<text transform="translate(538.15 828.03) scale(1.08 1)" text-anchor="middle">0</text>
<text transform="translate(633.5 828.03) scale(1.08 1)" text-anchor="middle">50</text>
<text transform="translate(728.85 828.03) scale(1.08 1)" text-anchor="middle">100</text>
<text transform="translate(824.2 828.03) scale(1.08 1)" text-anchor="middle">150</text>
<text transform="translate(532.35 816.03) scale(1.08 1)" text-anchor="end">0</text>
<text transform="translate(532.35 717.09) scale(1.08 1)" text-anchor="end">1000</text>
<text transform="translate(532.35 618.45) scale(1.08 1)" text-anchor="end">2000</text>
</g>
<g font-family="Liberation Serif, serif" font-size="18.3" fill="#3a3a3a">
<text transform="translate(611.15 853.23) scale(1.15 1)" textLength="66.35" lengthAdjust="spacing">electron</text>
<text transform="translate(697.55 853.23) scale(1.15 1)" textLength="53.04" lengthAdjust="spacing">energy</text>
<text transform="translate(776.25 853.23) scale(1.0 1)" textLength="47" lengthAdjust="spacing">[GeV]</text>
</g>
<g font-family="Liberation Serif, serif" font-style="italic" fill="#000" stroke="#000" stroke-width="0.4">
<text transform="translate(548.9 586.8) scale(1.31 1)" font-size="21.3" >e</text>
</g>
<path d="M561.4 575.5h10.1" stroke="#222" stroke-width="1.1" fill="none"/>
<rect x="737.75" y="583.13" width="20.8" height="8.4" fill="none" stroke="#00ffff" stroke-width="1.1"/>
<circle cx="748.15" cy="600.73" r="3" fill="#0000ff"/>
<rect x="738.05" y="610.03" width="20.2" height="7.7" fill="#ff0000"/>
<g font-family="Liberation Serif, serif" fill="#1a1a1a" stroke="#1a1a1a" stroke-width="0.2">
<text x="767.05" y="591.83" font-size="13">e</text>
<text x="773.25" y="586.33" font-size="8" font-weight="bold">+</text>
<text x="779.65" y="591.83" font-size="13">e</text>
<path d="M786.45 583.43h4" stroke="#222" stroke-width="0.9"/>
<text x="792.25" y="591.83" font-size="13.2">E</text>
<text x="799.85" y="594.33" font-size="8.4" font-weight="bold" textLength="17.5" lengthAdjust="spacingAndGlyphs">miss</text>
<text x="767.05" y="604.53" font-size="13">e</text>
<path d="M773.55 597.63 c0.7 -1.1 1.5 -1.1 2.2 -0.4 c0.7 0.7 1.5 0.7 2.2 -0.5" stroke="#222" stroke-width="0.8" fill="none"/>
<text x="773.25" y="607.63" font-size="7.6" font-weight="bold">R</text>
<text x="779.85" y="604.53" font-size="13">e</text>
<path d="M786.35 597.63 c0.7 -1.1 1.5 -1.1 2.2 -0.4 c0.7 0.7 1.5 0.7 2.2 -0.5" stroke="#222" stroke-width="0.8" fill="none"/>
<text x="786.05" y="607.63" font-size="7.6" font-weight="bold">L</text>
<text x="767.05" y="618.33" font-size="13">e</text>
<path d="M773.55 611.43 c0.7 -1.1 1.5 -1.1 2.2 -0.4 c0.7 0.7 1.5 0.7 2.2 -0.5" stroke="#222" stroke-width="0.8" fill="none"/>
<text x="773.25" y="621.43" font-size="7.6" font-weight="bold">R</text>
<text x="785.85" y="618.33" font-size="13">e</text>
<path d="M792.35 611.43 c0.7 -1.1 1.5 -1.1 2.2 -0.4 c0.7 0.7 1.5 0.7 2.2 -0.5" stroke="#222" stroke-width="0.8" fill="none"/>
<text x="792.05" y="621.43" font-size="7.6" font-weight="bold">R</text>
</g>
</g>
<g font-family="Liberation Serif, serif" font-style="italic" fill="#000" stroke="#000" stroke-width="0.55">
<text transform="translate(378.5 893.5) scale(1.36 1)" font-size="20.6" >e</text>
<path d="M390.8 880.2h11.3 M396.45 874.55v11.3" stroke="#111" stroke-width="1.15" fill="none"/>
<text transform="translate(390.5 897.9) scale(1.28 1)" font-size="14.6" stroke-width="0.45">R</text>
<text transform="translate(403.7 893.5) scale(1.36 1)" font-size="20.6" >e</text>
<path d="M416.9 880.4h10.1" stroke="#111" stroke-width="1.15" fill="none"/>
<text transform="translate(416.3 897.9) scale(1.28 1)" font-size="14.6" stroke-width="0.45">R</text>
<path d="M437.6 888.6H457.2" stroke="#000" stroke-width="1.35" fill="none"/>
<path d="M451.6 884.2 C453.2 886.8 455 888 457.6 888.6 C455 889.2 453.2 890.4 451.6 893" stroke="#000" stroke-width="1.3" fill="none" stroke-linecap="round"/>
<text transform="translate(467.2 893.5) scale(1.36 1)" font-size="20.6" >e</text>
<path d="M469.7 881.4 c1.6 -2.6 3.2 -2.4 4.6 -1.2 c1.4 1.2 2.8 1.2 4.2 -1.4" stroke="#000" stroke-width="1.25" fill="none" stroke-linecap="round"/>
<text transform="translate(479 897.9) scale(1.28 1)" font-size="14.6" stroke-width="0.45">R</text>
<text transform="translate(492.5 893.5) scale(1.36 1)" font-size="20.6" >e</text>
<path d="M495 881.4 c1.6 -2.6 3.2 -2.4 4.6 -1.2 c1.4 1.2 2.8 1.2 4.2 -1.4" stroke="#000" stroke-width="1.25" fill="none" stroke-linecap="round"/>
<text transform="translate(504.3 897.9) scale(1.28 1)" font-size="14.6" stroke-width="0.45">R</text>
<text transform="translate(517.6 893.5) scale(1 1)" font-size="22.5" font-style="normal">,</text>
<text transform="translate(532 893.5) scale(1.36 1)" font-size="20.6" >e</text>
<path d="M534.5 881.4 c1.6 -2.6 3.2 -2.4 4.6 -1.2 c1.4 1.2 2.8 1.2 4.2 -1.4" stroke="#000" stroke-width="1.25" fill="none" stroke-linecap="round"/>
<text transform="translate(543.7 897.9) scale(1.28 1)" font-size="14.6" stroke-width="0.45">R</text>
<text transform="translate(557 893.5) scale(1.36 1)" font-size="20.6" >e</text>
<path d="M559.5 881.4 c1.6 -2.6 3.2 -2.4 4.6 -1.2 c1.4 1.2 2.8 1.2 4.2 -1.4" stroke="#000" stroke-width="1.25" fill="none" stroke-linecap="round"/>
<text transform="translate(569.2 897.9) scale(1.28 1)" font-size="14.6" stroke-width="0.45">L</text>
</g>
<clipPath id="cp5"><rect x="146.3" y="915.18" width="286.05" height="246.6"/></clipPath>
<g>
<g clip-path="url(#cp5)">
<path d="M151.07 1161.78 V1142.55 H155.84 V1141.36 H160.6 V1145.8 H165.37 V1146.79 H170.14 V1148.17 H174.91 V1131.4 H179.67 V1106.84 H184.44 V1100.82 H189.21 V1103.39 H193.98 V1103.88 H198.74 V1107.63 H203.51 V1107.33 H208.28 V1106.15 H213.05 V1110.78 H217.81 V1110.39 H222.58 V1110.39 H227.35 V1112.46 H232.12 V1112.46 H236.88 V1102.99 H241.65 V1089.77 H246.42 V1084.94 H251.19 V1085.83 H255.95 V1080.11 H260.72 V1080.11 H265.49 V1084.15 H270.25 V1083.56 H275.02 V1077.25 H279.79 V1086.32 H284.56 V1082.08 H289.33 V1085.33 H294.09 V1089.48 H298.86 V1092.14 H303.63 V1090.17 H308.39 V1089.97 H313.16 V1100.43 H317.93 V1112.16 H322.7 V1122.92 H327.47 V1129.13 H332.23 V1128.44 H337 V1126.37 H341.77 V1128.44 H346.54 V1131.89 H351.3 V1136.53 H356.07 V1134.95 H360.84 V1138.8 H365.61 V1137.71 H370.37 V1143.53 H375.14 V1148.07 H379.91 V1152.01 H384.68 V1159.22 H389.44 V1160.89 H394.21 V1161.78" fill="none" stroke="#00ffff" stroke-width="1.3" stroke-linejoin="miter"/>
<path d="M258.34 1077.27V1082.94 M263.1 1077.27V1082.94 M277.41 1074.36V1080.13 M286.94 1079.28V1084.88 " stroke="#0000ff" stroke-width="1" fill="none"/>
<g fill="#0000ff"><circle cx="153.45" cy="1142.55" r="3"/><circle cx="158.22" cy="1141.36" r="3"/><circle cx="162.99" cy="1145.8" r="3"/><circle cx="167.75" cy="1146.79" r="3"/><circle cx="172.52" cy="1148.17" r="3"/><circle cx="177.29" cy="1131.4" r="3"/><circle cx="182.06" cy="1106.84" r="3"/><circle cx="186.82" cy="1100.82" r="3"/><circle cx="191.59" cy="1103.39" r="3"/><circle cx="196.36" cy="1103.88" r="3"/><circle cx="201.13" cy="1107.63" r="3"/><circle cx="205.89" cy="1107.33" r="3"/><circle cx="210.66" cy="1106.15" r="3"/><circle cx="215.43" cy="1110.78" r="3"/><circle cx="220.2" cy="1110.39" r="3"/><circle cx="224.96" cy="1110.39" r="3"/><circle cx="229.73" cy="1112.46" r="3"/><circle cx="234.5" cy="1112.46" r="3"/><circle cx="239.27" cy="1102.99" r="3"/><circle cx="244.03" cy="1089.77" r="3"/><circle cx="248.8" cy="1084.94" r="3"/><circle cx="253.57" cy="1085.83" r="3"/><circle cx="258.34" cy="1080.11" r="3"/><circle cx="263.1" cy="1080.11" r="3"/><circle cx="267.87" cy="1084.15" r="3"/><circle cx="272.64" cy="1083.56" r="3"/><circle cx="277.41" cy="1077.25" r="3"/><circle cx="282.17" cy="1086.32" r="3"/><circle cx="286.94" cy="1082.08" r="3"/><circle cx="291.71" cy="1085.33" r="3"/><circle cx="296.48" cy="1089.48" r="3"/><circle cx="301.24" cy="1092.14" r="3"/><circle cx="306.01" cy="1090.17" r="3"/><circle cx="310.78" cy="1089.97" r="3"/><circle cx="315.55" cy="1100.43" r="3"/><circle cx="320.31" cy="1112.16" r="3"/><circle cx="325.08" cy="1122.92" r="3"/><circle cx="329.85" cy="1129.13" r="3"/><circle cx="334.62" cy="1128.44" r="3"/><circle cx="339.38" cy="1126.37" r="3"/><circle cx="344.15" cy="1128.44" r="3"/><circle cx="348.92" cy="1131.89" r="3"/><circle cx="353.69" cy="1136.53" r="3"/><circle cx="358.45" cy="1134.95" r="3"/><circle cx="363.22" cy="1138.8" r="3"/><circle cx="367.99" cy="1137.71" r="3"/><circle cx="372.76" cy="1143.53" r="3"/><circle cx="377.52" cy="1148.07" r="3"/><circle cx="382.29" cy="1152.01" r="3"/><circle cx="387.06" cy="1159.22" r="3"/><circle cx="391.83" cy="1160.89" r="3"/></g>
</g>
<path d="M165.37 1161.78 V1161.48 H170.14 V1160.2 H174.91 V1141.07 H179.67 V1112.76 H184.44 V1107.63 H189.21 V1108.42 H193.98 V1107.63 H198.74 V1110.19 H203.51 V1109.7 H208.28 V1109.01 H213.05 V1113.25 H217.81 V1113.25 H222.58 V1112.95 H227.35 V1114.83 H232.12 V1115.32 H236.88 V1118.28 H241.65 V1119.07 H246.42 V1118.97 H251.19 V1120.84 H255.95 V1120.45 H260.72 V1120.15 H265.49 V1124.3 H270.25 V1123.9 H275.02 V1118.28 H279.79 V1126.17 H284.56 V1122.42 H289.33 V1123.9 H294.09 V1127.06 H298.86 V1128.24 H303.63 V1127.35 H308.39 V1129.13 H313.16 V1135.64 H317.93 V1143.73 H322.7 V1155.17 H327.47 V1160.6 H332.23 V1161.48 H337 V1161.78 Z" fill="#ff0000" stroke="#ff0000" stroke-width="1" stroke-linejoin="miter"/>
<line x1="146.3" y1="1161.78" x2="432.35" y2="1161.78" stroke="#ff0000" stroke-width="0.5"/>
<rect x="146.3" y="915.18" width="286.05" height="246.6" fill="none" stroke="#0a0a0a" stroke-width="0.72"/>
<path d="M165.37 1161.78v-3 M165.37 915.18v3 M184.44 1161.78v-3 M184.44 915.18v3 M203.51 1161.78v-3 M203.51 915.18v3 M222.58 1161.78v-3 M222.58 915.18v3 M241.65 1161.78v-6 M241.65 915.18v6 M260.72 1161.78v-3 M260.72 915.18v3 M279.79 1161.78v-3 M279.79 915.18v3 M298.86 1161.78v-3 M298.86 915.18v3 M317.93 1161.78v-3 M317.93 915.18v3 M337 1161.78v-6 M337 915.18v6 M356.07 1161.78v-3 M356.07 915.18v3 M375.14 1161.78v-3 M375.14 915.18v3 M394.21 1161.78v-3 M394.21 915.18v3 M413.28 1161.78v-3 M413.28 915.18v3 M146.3 1112.46h3 M432.35 1112.46h-3 M146.3 1063.14h6 M432.35 1063.14h-6 M146.3 1013.82h3 M432.35 1013.82h-3 M146.3 964.5h6 M432.35 964.5h-6 " stroke="#0a0a0a" stroke-width="0.72" fill="none"/>
<g font-family="Liberation Serif, serif" font-size="18" fill="#3a3a3a" letter-spacing="1.15">
<text transform="translate(146.8 1180.48) scale(1.08 1)" text-anchor="middle">0</text>
<text transform="translate(242.15 1180.48) scale(1.08 1)" text-anchor="middle">50</text>
<text transform="translate(337.5 1180.48) scale(1.08 1)" text-anchor="middle">100</text>
<text transform="translate(432.85 1180.48) scale(1.08 1)" text-anchor="middle">150</text>
<text transform="translate(141 1168.48) scale(1.08 1)" text-anchor="end">0</text>
<text transform="translate(141 1069.54) scale(1.08 1)" text-anchor="end">1000</text>
<text transform="translate(141 970.9) scale(1.08 1)" text-anchor="end">2000</text>
</g>
<g font-family="Liberation Serif, serif" font-size="18.3" fill="#3a3a3a">
<text transform="translate(219.7 1205.68) scale(1.15 1)" textLength="66.35" lengthAdjust="spacing">positron</text>
<text transform="translate(306.2 1205.68) scale(1.15 1)" textLength="53.04" lengthAdjust="spacing">energy</text>
<text transform="translate(384.9 1205.68) scale(1.0 1)" textLength="47" lengthAdjust="spacing">[GeV]</text>
</g>
<g font-family="Liberation Serif, serif" font-style="italic" fill="#000" stroke="#000" stroke-width="0.4">
<text transform="translate(171.5 948) scale(1.31 1)" font-size="21.3" >e</text>
</g>
<path d="M183.3 936.2h11.4 M189 930.5v11.4" stroke="#222" stroke-width="1.1" fill="none"/>
<rect x="346.4" y="935.58" width="20.8" height="8.4" fill="none" stroke="#00ffff" stroke-width="1.1"/>
<circle cx="356.8" cy="953.18" r="3" fill="#0000ff"/>
<rect x="346.7" y="962.48" width="20.2" height="7.7" fill="#ff0000"/>
<g font-family="Liberation Serif, serif" fill="#1a1a1a" stroke="#1a1a1a" stroke-width="0.2">
<text x="375.7" y="944.28" font-size="13">e</text>
<text x="381.9" y="938.78" font-size="8" font-weight="bold">+</text>
<text x="388.3" y="944.28" font-size="13">e</text>
<path d="M395.1 935.88h4" stroke="#222" stroke-width="0.9"/>
<text x="400.9" y="944.28" font-size="13.2">E</text>
<text x="408.5" y="946.78" font-size="8.4" font-weight="bold" textLength="17.5" lengthAdjust="spacingAndGlyphs">miss</text>
<text x="375.7" y="956.98" font-size="13">e</text>
<path d="M382.2 950.08 c0.7 -1.1 1.5 -1.1 2.2 -0.4 c0.7 0.7 1.5 0.7 2.2 -0.5" stroke="#222" stroke-width="0.8" fill="none"/>
<text x="381.9" y="960.08" font-size="7.6" font-weight="bold">R</text>
<text x="388.5" y="956.98" font-size="13">e</text>
<path d="M395 950.08 c0.7 -1.1 1.5 -1.1 2.2 -0.4 c0.7 0.7 1.5 0.7 2.2 -0.5" stroke="#222" stroke-width="0.8" fill="none"/>
<text x="394.7" y="960.08" font-size="7.6" font-weight="bold">L</text>
<text x="375.7" y="970.78" font-size="13">e</text>
<path d="M382.2 963.88 c0.7 -1.1 1.5 -1.1 2.2 -0.4 c0.7 0.7 1.5 0.7 2.2 -0.5" stroke="#222" stroke-width="0.8" fill="none"/>
<text x="381.9" y="973.88" font-size="7.6" font-weight="bold">R</text>
<text x="394.5" y="970.78" font-size="13">e</text>
<path d="M401 963.88 c0.7 -1.1 1.5 -1.1 2.2 -0.4 c0.7 0.7 1.5 0.7 2.2 -0.5" stroke="#222" stroke-width="0.8" fill="none"/>
<text x="400.7" y="973.88" font-size="7.6" font-weight="bold">R</text>
</g>
</g>
<clipPath id="cp6"><rect x="537.65" y="915.18" width="286.05" height="246.6"/></clipPath>
<g>
<g clip-path="url(#cp6)">
<path d="M542.42 1161.78 V1160.1 H547.18 V1159.71 H551.95 V1160.6 H556.72 V1160.6 H561.49 V1159.22 H566.25 V1142.05 H571.02 V1105.95 H575.79 V1080.8 H580.56 V1057.52 H585.32 V1046.77 H590.09 V1048.05 H594.86 V1055.45 H599.63 V1050.22 H604.39 V1057.52 H609.16 V1053.47 H613.93 V1061.46 H618.7 V1055.74 H623.46 V1058.5 H628.23 V1057.52 H633 V1062.15 H637.77 V1070.34 H642.53 V1065.01 H647.3 V1073.99 H652.07 V1076.75 H656.84 V1074.98 H661.61 V1079.51 H666.37 V1082.77 H671.14 V1094.9 H675.91 V1099.93 H680.67 V1120.15 H685.44 V1122.23 H690.21 V1124.49 H694.98 V1124.49 H699.75 V1128.44 H704.51 V1132.78 H709.28 V1140.28 H714.05 V1153.69 H718.81 V1158.52 H723.58 V1159.71 H728.35 V1159.71 H733.12 V1160.1 H737.88 V1159.41 H742.65 V1160.1 H747.42 V1159.71 H752.19 V1160.1 H756.95 V1159.71 H761.72 V1160.1 H766.49 V1159.91 H771.26 V1160.4 H776.02 V1160.4 H780.79 V1160.89 H785.56 V1161.78" fill="none" stroke="#00ffff" stroke-width="1.3" stroke-linejoin="miter"/>
<path d="M578.17 1077.97V1083.62 M582.94 1054.31V1060.72 M587.71 1043.4V1050.13 M592.48 1044.7V1051.4 M597.24 1052.21V1058.68 M602.01 1046.9V1053.54 M606.78 1054.31V1060.72 M611.55 1050.2V1056.74 M616.31 1058.32V1064.61 M621.08 1052.51V1058.98 M625.85 1055.31V1061.7 M630.62 1054.31V1060.72 M635.38 1059.02V1065.29 M640.15 1067.34V1073.34 M644.92 1061.92V1068.1 M649.69 1071.05V1076.93 M654.45 1073.86V1079.65 M659.22 1072.05V1077.9 M663.99 1076.67V1082.36 " stroke="#0000ff" stroke-width="1" fill="none"/>
<g fill="#0000ff"><circle cx="544.8" cy="1160.1" r="3"/><circle cx="549.57" cy="1159.71" r="3"/><circle cx="554.34" cy="1160.6" r="3"/><circle cx="559.1" cy="1160.6" r="3"/><circle cx="563.87" cy="1159.22" r="3"/><circle cx="568.64" cy="1142.05" r="3"/><circle cx="573.41" cy="1105.95" r="3"/><circle cx="578.17" cy="1080.8" r="3"/><circle cx="582.94" cy="1057.52" r="3"/><circle cx="587.71" cy="1046.77" r="3"/><circle cx="592.48" cy="1048.05" r="3"/><circle cx="597.24" cy="1055.45" r="3"/><circle cx="602.01" cy="1050.22" r="3"/><circle cx="606.78" cy="1057.52" r="3"/><circle cx="611.55" cy="1053.47" r="3"/><circle cx="616.31" cy="1061.46" r="3"/><circle cx="621.08" cy="1055.74" r="3"/><circle cx="625.85" cy="1058.5" r="3"/><circle cx="630.62" cy="1057.52" r="3"/><circle cx="635.38" cy="1062.15" r="3"/><circle cx="640.15" cy="1070.34" r="3"/><circle cx="644.92" cy="1065.01" r="3"/><circle cx="649.69" cy="1073.99" r="3"/><circle cx="654.45" cy="1076.75" r="3"/><circle cx="659.22" cy="1074.98" r="3"/><circle cx="663.99" cy="1079.51" r="3"/><circle cx="668.76" cy="1082.77" r="3"/><circle cx="673.52" cy="1094.9" r="3"/><circle cx="678.29" cy="1099.93" r="3"/><circle cx="683.06" cy="1120.15" r="3"/><circle cx="687.83" cy="1122.23" r="3"/><circle cx="692.59" cy="1124.49" r="3"/><circle cx="697.36" cy="1124.49" r="3"/><circle cx="702.13" cy="1128.44" r="3"/><circle cx="706.9" cy="1132.78" r="3"/><circle cx="711.66" cy="1140.28" r="3"/><circle cx="716.43" cy="1153.69" r="3"/><circle cx="721.2" cy="1158.52" r="3"/><circle cx="725.97" cy="1159.71" r="3"/><circle cx="730.73" cy="1159.71" r="3"/><circle cx="735.5" cy="1160.1" r="3"/><circle cx="740.27" cy="1159.41" r="3"/><circle cx="745.04" cy="1160.1" r="3"/><circle cx="749.8" cy="1159.71" r="3"/><circle cx="754.57" cy="1160.1" r="3"/><circle cx="759.34" cy="1159.71" r="3"/><circle cx="764.11" cy="1160.1" r="3"/><circle cx="768.87" cy="1159.91" r="3"/><circle cx="773.64" cy="1160.4" r="3"/><circle cx="778.41" cy="1160.4" r="3"/><circle cx="783.18" cy="1160.89" r="3"/></g>
</g>
<path d="M561.49 1161.78 V1160.89 H566.25 V1143.14 H571.02 V1109.3 H575.79 V1109.01 H580.56 V1106.74 H585.32 V1104.47 H590.09 V1109.8 H594.86 V1111.37 H599.63 V1110.19 H604.39 V1115.32 H609.16 V1112.46 H613.93 V1118.77 H618.7 V1113.64 H623.46 V1117.59 H628.23 V1117.89 H633 V1119.07 H637.77 V1121.34 H642.53 V1119.27 H647.3 V1123.9 H652.07 V1122.23 H656.84 V1121.34 H661.61 V1121.34 H666.37 V1122.23 H671.14 V1126.86 H675.91 V1121.73 H680.67 V1124.4 H685.44 V1123.61 H690.21 V1126.17 H694.98 V1126.17 H699.75 V1129.92 H704.51 V1134.26 H709.28 V1141.95 H714.05 V1155.76 H718.81 V1160.6 H723.58 V1161.48 H728.35 V1161.78 Z" fill="#ff0000" stroke="#ff0000" stroke-width="1" stroke-linejoin="miter"/>
<line x1="537.65" y1="1161.78" x2="823.7" y2="1161.78" stroke="#ff0000" stroke-width="0.5"/>
<rect x="537.65" y="915.18" width="286.05" height="246.6" fill="none" stroke="#0a0a0a" stroke-width="0.72"/>
<path d="M556.72 1161.78v-3 M556.72 915.18v3 M575.79 1161.78v-3 M575.79 915.18v3 M594.86 1161.78v-3 M594.86 915.18v3 M613.93 1161.78v-3 M613.93 915.18v3 M633 1161.78v-6 M633 915.18v6 M652.07 1161.78v-3 M652.07 915.18v3 M671.14 1161.78v-3 M671.14 915.18v3 M690.21 1161.78v-3 M690.21 915.18v3 M709.28 1161.78v-3 M709.28 915.18v3 M728.35 1161.78v-6 M728.35 915.18v6 M747.42 1161.78v-3 M747.42 915.18v3 M766.49 1161.78v-3 M766.49 915.18v3 M785.56 1161.78v-3 M785.56 915.18v3 M804.63 1161.78v-3 M804.63 915.18v3 M537.65 1112.46h3 M823.7 1112.46h-3 M537.65 1063.14h6 M823.7 1063.14h-6 M537.65 1013.82h3 M823.7 1013.82h-3 M537.65 964.5h6 M823.7 964.5h-6 " stroke="#0a0a0a" stroke-width="0.72" fill="none"/>
<g font-family="Liberation Serif, serif" font-size="18" fill="#3a3a3a" letter-spacing="1.15">
<text transform="translate(538.15 1180.48) scale(1.08 1)" text-anchor="middle">0</text>
<text transform="translate(633.5 1180.48) scale(1.08 1)" text-anchor="middle">50</text>
<text transform="translate(728.85 1180.48) scale(1.08 1)" text-anchor="middle">100</text>
<text transform="translate(824.2 1180.48) scale(1.08 1)" text-anchor="middle">150</text>
<text transform="translate(532.35 1168.48) scale(1.08 1)" text-anchor="end">0</text>
<text transform="translate(532.35 1069.54) scale(1.08 1)" text-anchor="end">1000</text>
<text transform="translate(532.35 970.9) scale(1.08 1)" text-anchor="end">2000</text>
</g>
<g font-family="Liberation Serif, serif" font-size="18.3" fill="#3a3a3a">
<text transform="translate(611.15 1205.68) scale(1.15 1)" textLength="66.35" lengthAdjust="spacing">electron</text>
<text transform="translate(697.55 1205.68) scale(1.15 1)" textLength="53.04" lengthAdjust="spacing">energy</text>
<text transform="translate(776.25 1205.68) scale(1.0 1)" textLength="47" lengthAdjust="spacing">[GeV]</text>
</g>
<g font-family="Liberation Serif, serif" font-style="italic" fill="#000" stroke="#000" stroke-width="0.4">
<text transform="translate(561.4 948) scale(1.31 1)" font-size="21.3" >e</text>
</g>
<path d="M574.2 936.3h10.1" stroke="#222" stroke-width="1.1" fill="none"/>
<rect x="737.75" y="935.58" width="20.8" height="8.4" fill="none" stroke="#00ffff" stroke-width="1.1"/>
<circle cx="748.15" cy="953.18" r="3" fill="#0000ff"/>
<rect x="738.05" y="962.48" width="20.2" height="7.7" fill="#ff0000"/>
<g font-family="Liberation Serif, serif" fill="#1a1a1a" stroke="#1a1a1a" stroke-width="0.2">
<text x="767.05" y="944.28" font-size="13">e</text>
<text x="773.25" y="938.78" font-size="8" font-weight="bold">+</text>
<text x="779.65" y="944.28" font-size="13">e</text>
<path d="M786.45 935.88h4" stroke="#222" stroke-width="0.9"/>
<text x="792.25" y="944.28" font-size="13.2">E</text>
<text x="799.85" y="946.78" font-size="8.4" font-weight="bold" textLength="17.5" lengthAdjust="spacingAndGlyphs">miss</text>
<text x="767.05" y="956.98" font-size="13">e</text>
<path d="M773.55 950.08 c0.7 -1.1 1.5 -1.1 2.2 -0.4 c0.7 0.7 1.5 0.7 2.2 -0.5" stroke="#222" stroke-width="0.8" fill="none"/>
<text x="773.25" y="960.08" font-size="7.6" font-weight="bold">R</text>
<text x="779.85" y="956.98" font-size="13">e</text>
<path d="M786.35 950.08 c0.7 -1.1 1.5 -1.1 2.2 -0.4 c0.7 0.7 1.5 0.7 2.2 -0.5" stroke="#222" stroke-width="0.8" fill="none"/>
<text x="786.05" y="960.08" font-size="7.6" font-weight="bold">L</text>
<text x="767.05" y="970.78" font-size="13">e</text>
<path d="M773.55 963.88 c0.7 -1.1 1.5 -1.1 2.2 -0.4 c0.7 0.7 1.5 0.7 2.2 -0.5" stroke="#222" stroke-width="0.8" fill="none"/>
<text x="773.25" y="973.88" font-size="7.6" font-weight="bold">R</text>
<text x="785.85" y="970.78" font-size="13">e</text>
<path d="M792.35 963.88 c0.7 -1.1 1.5 -1.1 2.2 -0.4 c0.7 0.7 1.5 0.7 2.2 -0.5" stroke="#222" stroke-width="0.8" fill="none"/>
<text x="792.05" y="973.88" font-size="7.6" font-weight="bold">R</text>
</g>
</g>
</svg>
</body></html>
